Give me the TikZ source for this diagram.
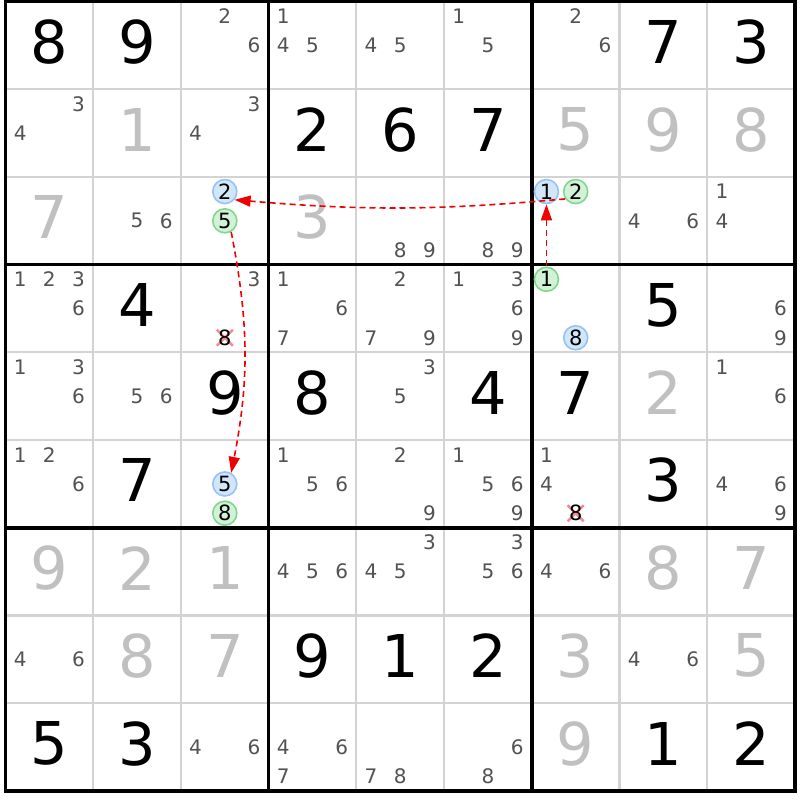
\documentclass[tikz,border=0pt]{standalone}
\usepackage{fontspec}
\setmainfont{DejaVu Sans}
\usetikzlibrary{arrows.meta}
\definecolor{thingray}{RGB}{211,211,211}
\definecolor{candgray}{RGB}{82,82,82}
\definecolor{solvedgray}{RGB}{192,192,192}
\definecolor{blueedge}{RGB}{150,195,245}
\definecolor{bluefill}{RGB}{210,230,250}
\definecolor{greenedge}{RGB}{130,215,140}
\definecolor{greenfill}{RGB}{210,242,215}
\definecolor{linkred}{RGB}{240,0,0}
\definecolor{crossred}{RGB}{240,140,150}

\newcommand{\cands}[3]{%
  \foreach \k in #3 {
    \pgfmathsetmacro{\cx}{#2-1+(2*mod(\k-1,3)+1)/6}
    \pgfmathsetmacro{\cy}{#1-1+(2*floor((\k-1)/3)+1)/6}
    \node[cand] (c#1#2\k) at (\cx,\cy) {\k};
  }}
\newcommand{\hlcand}[4]{%
  \pgfmathsetmacro{\cx}{#3-1+(2*mod(#4-1,3)+1)/6}
  \pgfmathsetmacro{\cy}{#2-1+(2*floor((#4-1)/3)+1)/6}
  \node[#1] (h#2#3#4) at (\cx,\cy) {#4};}
\newcommand{\elimcand}[3]{%
  \pgfmathsetmacro{\cx}{#2-1+(2*mod(#3-1,3)+1)/6}
  \pgfmathsetmacro{\cy}{#1-1+(2*floor((#3-1)/3)+1)/6}
  \draw[crossred, line width=2.5pt] (\cx,\cy) ++(-8pt,-8pt) -- ++(16pt,16pt);
  \draw[crossred, line width=2.5pt] (\cx,\cy) ++(-8pt,8pt) -- ++(16pt,-16pt);
  \node[elim] (x#1#2#3) at (\cx,\cy) {#3};}

\begin{document}
\begin{tikzpicture}[x=87.72pt, y=-87.72pt,
    given/.style={font=\fontsize{59}{59}\selectfont, inner sep=0pt, yshift=3.5pt},
    solved/.style={given, text=solvedgray},
    cand/.style={font=\fontsize{20}{20}\selectfont, inner sep=0pt, text=candgray},
    hlbase/.style={circle, inner sep=0pt, minimum size=24pt, line width=1.6pt, font=\fontsize{21}{21}\selectfont},
    bluecand/.style={hlbase, draw=blueedge, fill=bluefill},
    greencand/.style={hlbase, draw=greenedge, fill=greenfill},
    elim/.style={font=\fontsize{21}{21}\selectfont, inner sep=0pt},
    link/.style={draw=linkred, line width=1.6pt, dash pattern=on 6pt off 4pt, -{Triangle[length=16pt,width=11pt]}}]

    \fill[white] (-0.0627,-0.0171) rectangle (9.0571,9.1028);
    \useasboundingbox (-0.0627,-0.0171) rectangle (9.0571,9.1028);

    \foreach \i in {1,2,4,5,7,8} {
        \draw[thingray, line width=2.2pt] (\i,0) -- (\i,9);
        \draw[thingray, line width=2.2pt] (0,\i) -- (9,\i);
    }
    \foreach \i in {3,6} {
        \draw[black, line width=3.5pt] (\i,0) -- (\i,9);
        \draw[black, line width=3.5pt] (0,\i) -- (9,\i);
    }
    \draw[black, line width=3.5pt] (0,0) rectangle (9,9);

    \foreach \r/\c/\d in {1/1/8,1/2/9,1/8/7,1/9/3,2/4/2,2/5/6,2/6/7,4/2/4,4/8/5,5/3/9,5/4/8,
        5/6/4,5/7/7,6/2/7,6/8/3,8/4/9,8/5/1,8/6/2,9/1/5,9/2/3,9/8/1,9/9/2}
        \node[given] (d\r\c) at (\c-0.5,\r-0.5) {\d};

    \foreach \r/\c/\d in {2/2/1,2/7/5,2/8/9,2/9/8,3/1/7,3/4/3,5/8/2,7/1/9,7/2/2,7/3/1,
        7/8/8,7/9/7,8/2/8,8/3/7,8/7/3,8/9/5,9/7/9}
        \node[solved] (s\r\c) at (\c-0.5,\r-0.5) {\d};

    \foreach \r/\c/\ks in {1/3/{2,6},1/4/{1,4,5},1/5/{4,5},1/6/{1,5},1/7/{2,6},
        2/1/{3,4},2/3/{3,4},
        3/2/{5,6},3/5/{8,9},3/6/{8,9},3/8/{4,6},3/9/{1,4},
        4/1/{1,2,3,6},4/3/{3},4/4/{1,6,7},4/5/{2,7,9},4/6/{1,3,6,9},4/9/{6,9},
        5/1/{1,3,6},5/2/{5,6},5/5/{3,5},5/9/{1,6},
        6/1/{1,2,6},6/4/{1,5,6},6/5/{2,9},6/6/{1,5,6,9},6/7/{1,4},6/9/{4,6,9},
        7/4/{4,5,6},7/5/{3,4,5},7/6/{3,5,6},7/7/{4,6},
        8/1/{4,6},8/8/{4,6},
        9/3/{4,6},9/4/{4,6,7},9/5/{7,8},9/6/{6,8}}
        \cands{\r}{\c}{\ks};

    \elimcand{4}{3}{8}
    \elimcand{6}{7}{8}

    \hlcand{bluecand}{3}{3}{2}
    \hlcand{greencand}{3}{3}{5}
    \hlcand{bluecand}{3}{7}{1}
    \hlcand{greencand}{3}{7}{2}
    \hlcand{greencand}{4}{7}{1}
    \hlcand{bluecand}{4}{7}{8}
    \hlcand{bluecand}{6}{3}{5}
    \hlcand{greencand}{6}{3}{8}

    \draw[link] (h471) -- (h371);
    \draw[link] (h372.215) to[bend left=5] (h332.-40);
    \draw[link] (h335.-60) to[bend left=11] (h635.60);

\end{tikzpicture}
\end{document}
